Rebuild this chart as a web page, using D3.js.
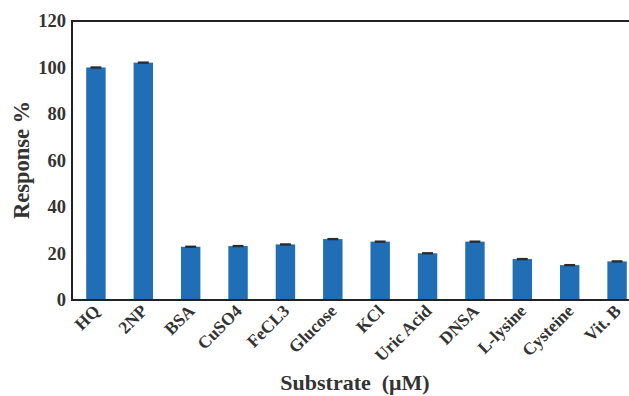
<!DOCTYPE html>
<html>
<head>
<meta charset="utf-8">
<script src="https://cdn.jsdelivr.net/npm/d3@7"></script>
<style>
  html, body { margin: 0; padding: 0; background: #ffffff; }
  svg { display: block; }
</style>
</head>
<body>
<svg id="chart" width="629" height="396"></svg>
<script>
// Selectivity data: response (%) of the sensor to each substrate
const substrates = ["HQ", "2NP", "BSA", "CuSO4", "FeCL3", "Glucose", "KCl", "Uric Acid", "DNSA", "L-lysine", "Cysteine", "Vit. B"];
const responses = [100, 102.1, 22.9, 23.2, 23.9, 26.2, 25.1, 20.1, 25.1, 17.6, 15.0, 16.6];
const errors = [0.5, 0.5, 0.5, 0.5, 0.5, 0.5, 0.5, 0.5, 0.5, 0.5, 0.5, 0.5];
const yTicks = [0, 20, 40, 60, 80, 100, 120];

const FONT = "'Liberation Serif', 'Times New Roman', Times, serif";
const TEXT_COLOR = "#333333";

const svg = d3.select("#chart");
const margin = { left: 72, top: 21, bottom: 300, right: 629 };

const x = d3.scaleBand()
  .domain(substrates)
  .range([margin.left, 641])
  .paddingInner(0.59)
  .paddingOuter(0.3);

const y = d3.scaleLinear()
  .domain([0, 120])
  .range([margin.bottom, margin.top]);

// Bars
svg.append("g")
  .selectAll("rect")
  .data(substrates)
  .join("rect")
  .attr("x", d => x(d))
  .attr("width", x.bandwidth())
  .attr("y", (d, i) => y(responses[i]))
  .attr("height", (d, i) => y(0) - y(responses[i]))
  .attr("fill", "#1f6eb6");

// Error bar caps
svg.append("g")
  .selectAll("rect")
  .data(substrates)
  .join("rect")
  .attr("x", d => x(d) + x.bandwidth() * 0.22)
  .attr("width", x.bandwidth() * 0.56)
  .attr("y", (d, i) => y(responses[i] + errors[i]))
  .attr("height", (d, i) => Math.max(2, y(responses[i] - errors[i]) - y(responses[i] + errors[i])))
  .attr("fill", "#2b2b2b");

// Y axis
const yAxis = svg.append("g")
  .attr("transform", `translate(${margin.left},0)`)
  .call(d3.axisLeft(y).tickValues(yTicks).tickSize(0).tickPadding(6));
yAxis.attr("font-family", null).attr("font-size", null);
yAxis.select(".domain").remove();
yAxis.selectAll("text")
  .style("font-family", FONT)
  .style("font-weight", "bold")
  .style("font-size", "18.5px")
  .attr("fill", TEXT_COLOR);

// X axis labels, rotated
const xAxis = svg.append("g")
  .attr("transform", `translate(0,${margin.bottom})`)
  .call(d3.axisBottom(x).tickSize(0).tickPadding(0));
xAxis.attr("font-family", null).attr("font-size", null);
xAxis.select(".domain").remove();
xAxis.selectAll("text")
  .style("font-family", FONT)
  .style("font-weight", "bold")
  .style("font-size", "17.5px")
  .attr("fill", TEXT_COLOR)
  .attr("text-anchor", "end")
  .attr("dy", 0)
  .attr("y", 0)
  .attr("transform", "translate(5,12) rotate(-45)");

// Frame: left, top and bottom lines
const frame = svg.append("g").attr("stroke", "#222222").attr("stroke-width", 2).attr("fill", "none");
frame.append("line").attr("x1", margin.left).attr("x2", margin.left).attr("y1", margin.top - 1).attr("y2", margin.bottom + 1);
frame.append("line").attr("x1", margin.left).attr("x2", margin.right).attr("y1", margin.top).attr("y2", margin.top);
frame.append("line").attr("x1", margin.left).attr("x2", margin.right).attr("y1", margin.bottom).attr("y2", margin.bottom);

// Axis titles
svg.append("text")
  .attr("transform", `translate(29,160) rotate(-90)`)
  .attr("text-anchor", "middle")
  .style("font-family", FONT)
  .style("font-weight", "bold")
  .style("font-size", "22.5px")
  .attr("fill", TEXT_COLOR)
  .text("Response %");

svg.append("text")
  .attr("x", 355)
  .attr("y", 390)
  .attr("text-anchor", "middle")
  .style("font-family", FONT)
  .style("font-weight", "bold")
  .style("font-size", "22px")
  .style("white-space", "pre")
  .attr("fill", TEXT_COLOR)
  .text("Substrate  (μM)");
</script>
</body>
</html>
